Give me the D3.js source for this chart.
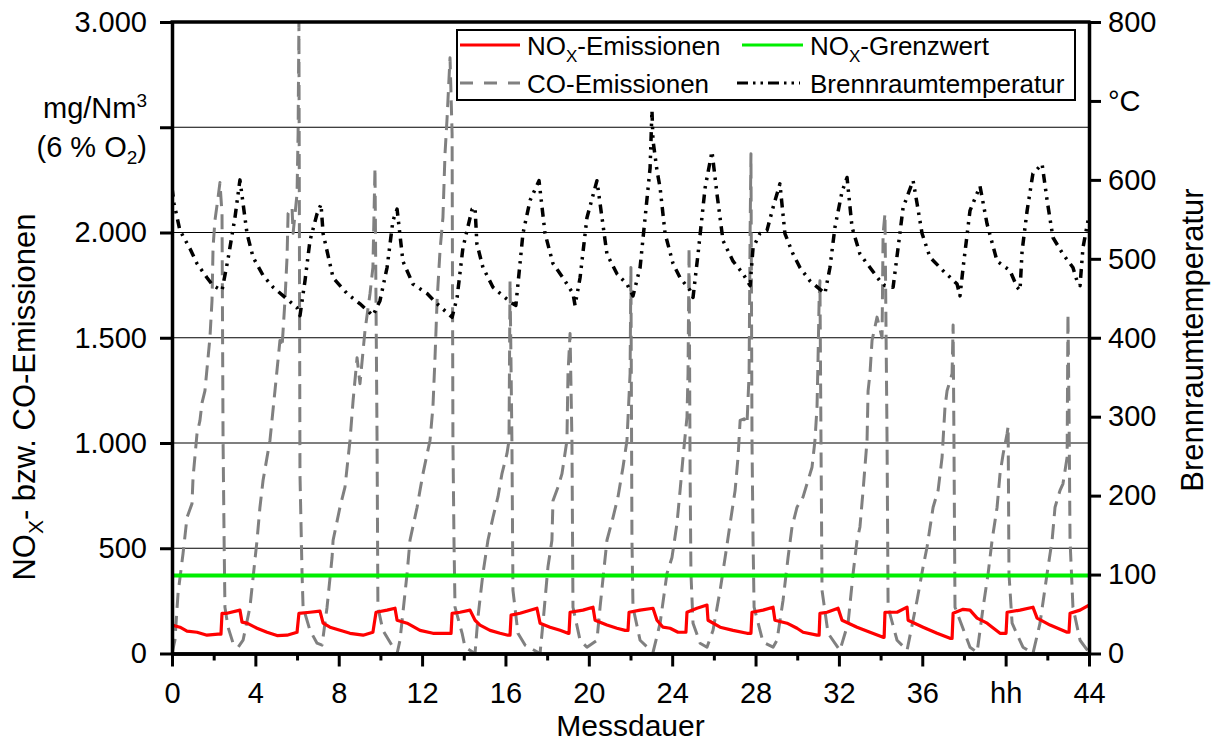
<!DOCTYPE html>
<html><head><meta charset="utf-8">
<script src="https://cdn.jsdelivr.net/npm/d3@7"></script>
<style>
html,body{margin:0;padding:0;background:#fff;}
svg{display:block;font-family:"Liberation Sans",Arial,sans-serif;}
</style></head>
<body>
<svg id="chart" width="1218" height="745"></svg>
<script>
// ---------- data ----------
const xTickValues = [0,4,8,12,16,20,24,28,32,36,40,44];
const xTickLabels = ["0","4","8","12","16","20","24","28","32","36","hh","44"];
const xMinorTicks = [2,6,10,14,18,22,26,30,34,38,42];
const leftTickValues = [0,500,1000,1500,2000,2500,3000];
const rightTickValues = [0,100,200,300,400,500,600,700,800];
const noxLimit = 370;

// NOx emissions [hour, mg/Nm3]
const noxData = [[0,135],[0.38,125],[0.72,106],[1.2,101],[1.68,87],[2.21,92],[2.35,92],[2.4,191],[2.64,191],[3.26,206],[3.36,149],[3.6,144],[4.08,120],[4.56,101],[5.04,85],[5.52,87],[6.0,101],[6.09,191],[6.62,196],[7.1,201],[7.25,144],[7.58,125],[8.06,110],[8.54,96],[9.17,87],[9.64,101],[9.79,196],[10.32,206],[10.7,215],[10.8,158],[11.28,144],[11.9,110],[12.52,96],[13.2,96],[13.39,96],[13.44,191],[13.82,196],[14.3,206],[14.54,158],[14.78,135],[15.26,110],[15.74,96],[16.12,87],[16.22,87],[16.27,182],[16.7,191],[17.51,215],[17.66,144],[18.14,125],[18.62,110],[19.0,96],[19.05,96],[19.1,196],[19.72,206],[20.2,220],[20.3,158],[20.87,135],[21.35,120],[21.74,110],[21.88,110],[21.93,196],[22.46,206],[23.08,215],[23.27,158],[23.56,125],[23.9,120],[24.28,101],[24.66,101],[24.71,196],[25.19,215],[25.67,230],[25.72,158],[26.3,125],[26.92,110],[27.59,96],[27.78,96],[27.83,196],[28.36,206],[28.84,220],[28.93,158],[29.51,144],[29.99,120],[30.28,101],[30.95,87],[31.05,87],[31.09,191],[31.43,196],[31.96,215],[32.15,158],[32.87,125],[33.49,101],[34.12,77],[34.17,77],[34.21,196],[34.79,196],[35.27,220],[35.32,158],[36.04,125],[36.71,96],[37.33,72],[37.43,72],[37.48,191],[37.96,210],[38.29,206],[38.63,168],[39.11,144],[39.73,96],[40.02,96],[40.07,196],[40.69,206],[41.31,220],[41.51,168],[42.13,135],[42.61,115],[42.95,101],[43.04,101],[43.09,191],[43.57,206],[44,230]];

// CO emissions [hour, mg/Nm3]
const coData = [[0,0],[0.14,63],[0.29,286],[0.53,475],[0.72,646],[0.96,712],[1.01,836],[1.2,1044],[1.34,1106],[1.44,1191],[1.58,1248],[1.73,1405],[1.82,1501],[1.92,1677],[1.97,1929],[2.06,2057],[2.21,2166],[2.3,2237],[2.4,2090],[2.45,1012],[2.5,538],[2.54,220],[2.69,125],[2.93,49],[3.17,30],[3.41,63],[3.74,220],[4.08,538],[4.22,695],[4.37,823],[4.7,1012],[4.94,1248],[5.18,1487],[5.28,1455],[5.42,1677],[5.52,1882],[5.57,2090],[5.76,2119],[5.81,1996],[6.0,2185],[6.05,2469],[6.09,3000],[6.14,853],[6.24,380],[6.29,220],[6.62,110],[6.96,49],[7.2,40],[7.44,220],[7.68,456],[7.73,538],[8.06,695],[8.3,790],[8.54,1012],[8.69,1202],[8.88,1405],[9.02,1282],[9.26,1534],[9.5,1709],[9.64,1834],[9.74,2308],[9.84,1000],[9.88,220],[10.12,110],[10.6,30],[10.8,0],[10.94,63],[11.28,380],[11.42,538],[11.76,695],[11.9,775],[12.04,853],[12.24,948],[12.38,1012],[12.52,1170],[12.62,1405],[12.72,1677],[12.86,1914],[13.0,2071],[13.1,2374],[13.2,2545],[13.34,2830],[13.44,2469],[13.48,1012],[13.53,538],[13.58,220],[13.92,96],[14.06,30],[14.54,0],[14.68,172],[14.92,380],[15.16,538],[15.4,646],[15.64,744],[15.83,853],[16.07,948],[16.17,1012],[16.22,1770],[16.31,1012],[16.36,300],[16.6,96],[16.94,40],[17.66,0],[17.8,144],[18.04,412],[18.23,538],[18.28,726],[18.52,790],[18.71,853],[18.95,1012],[19.0,1329],[19.1,1520],[19.19,1012],[19.24,220],[19.58,63],[19.91,30],[20.39,63],[20.54,220],[20.87,538],[21.16,646],[21.4,744],[21.64,885],[21.83,1012],[21.98,1329],[22.02,1834],[22.07,538],[22.12,220],[22.46,63],[23.08,5],[23.42,144],[23.75,380],[23.99,456],[24.23,617],[24.38,775],[24.52,932],[24.71,1123],[24.76,1329],[24.81,1929],[24.86,853],[24.9,380],[25.0,144],[25.34,49],[25.67,30],[25.96,110],[26.3,300],[26.54,456],[26.78,617],[27.02,775],[27.16,932],[27.26,1107],[27.45,1115],[27.59,1090],[27.69,1329],[27.74,2009],[27.78,2374],[27.83,1012],[27.88,538],[27.93,220],[28.36,54],[28.84,30],[29.03,63],[29.32,253],[29.56,456],[29.75,601],[29.99,695],[30.28,744],[30.52,823],[30.71,885],[30.85,1012],[30.95,1170],[31.0,1405],[31.05,1677],[31.09,1771],[31.14,1012],[31.19,300],[31.48,96],[32.05,15],[32.44,144],[32.68,380],[32.87,538],[33.01,601],[33.16,775],[33.35,1012],[33.4,1248],[33.49,1329],[33.59,1487],[33.83,1598],[34.07,1500],[34.12,1993],[34.21,2090],[34.31,1012],[34.36,220],[34.79,63],[35.27,15],[35.75,253],[36.04,412],[36.23,506],[36.52,695],[36.76,775],[36.95,932],[37.09,1170],[37.19,1248],[37.43,1329],[37.48,1560],[37.52,1012],[37.57,220],[38.29,30],[38.63,5],[38.92,220],[39.16,380],[39.35,538],[39.59,695],[39.73,853],[39.88,948],[40.07,1044],[40.12,1080],[40.16,380],[40.31,144],[40.83,30],[41.31,0],[41.65,144],[41.99,380],[42.23,538],[42.37,695],[42.61,775],[42.75,806],[42.95,932],[42.99,1614],[43.04,1170],[43.09,538],[43.23,220],[43.57,63],[44,5]];

// Combustion chamber temperature [hour, °C]
const tempData = [[0,590],[0.1,570],[0.38,536],[0.86,513],[1.2,494],[1.68,476],[1.97,466],[2.4,460],[2.69,500],[3.02,552],[3.26,600],[3.6,532],[3.89,502],[4.37,479],[4.85,464],[5.52,449],[6.0,438],[6.14,428],[6.38,472],[6.62,523],[6.96,557],[7.15,569],[7.25,532],[7.73,476],[8.4,456],[9.02,443],[9.64,428],[9.98,447],[10.32,489],[10.6,548],[10.8,563],[11.08,497],[11.56,468],[12.24,456],[12.72,443],[13.44,426],[13.68,451],[13.96,514],[14.4,563],[14.54,565],[14.63,519],[14.92,489],[15.4,464],[15.88,453],[16.36,443],[16.5,441],[16.6,468],[16.84,532],[17.18,574],[17.61,599],[17.9,532],[18.28,494],[18.76,476],[19.24,456],[19.34,441],[19.58,476],[19.91,552],[20.39,599],[20.54,570],[20.87,506],[21.35,481],[21.83,468],[22.12,453],[22.46,489],[22.7,552],[22.94,615],[23.03,688],[23.08,650],[23.27,612],[23.42,590],[23.66,532],[24.04,494],[24.38,476],[24.86,460],[25.0,451],[25.24,506],[25.58,590],[25.91,636],[26.15,582],[26.44,523],[26.92,497],[27.4,481],[27.74,466],[27.88,514],[28.21,532],[28.55,536],[28.84,565],[29.17,595],[29.41,532],[29.8,506],[30.13,489],[30.61,472],[31.33,456],[31.57,489],[31.81,540],[32.15,585],[32.39,603],[32.63,540],[33.01,506],[33.49,489],[33.97,472],[34.21,466],[34.6,464],[34.84,514],[35.08,565],[35.56,599],[35.75,570],[35.99,532],[36.37,502],[37.0,485],[37.67,468],[37.81,453],[37.96,489],[38.29,561],[38.77,592],[39.11,544],[39.59,497],[40.21,485],[40.55,464],[40.69,460],[40.79,510],[41.03,561],[41.31,608],[41.75,620],[41.99,574],[42.27,527],[42.75,506],[43.23,489],[43.47,468],[43.57,466],[43.71,514],[44,555]];

// ---------- layout ----------
const svg = d3.select("#chart");
const L = 172, R = 1089, T = 22, B = 653.5;
const FONT = 29;

const x = d3.scaleLinear().domain([0,44]).range([L,R]);
const yL = d3.scaleLinear().domain([0,3000]).range([B,T]);
const yR = d3.scaleLinear().domain([0,800]).range([B,T]);

const de = d3.formatLocale({decimal:",",thousands:".",grouping:[3],currency:["","€"]});
const fmt = de.format(",");

// gridlines
svg.append("g").selectAll("line").data([500,1000,1500,2000,2500]).join("line")
  .attr("x1",L).attr("x2",R).attr("y1",d=>yL(d)).attr("y2",d=>yL(d))
  .attr("stroke","#000").attr("stroke-width",1.2);

// clip
svg.append("clipPath").attr("id","clip").append("rect")
  .attr("x",L).attr("y",T).attr("width",R-L).attr("height",B-T);

const plot = svg.append("g").attr("clip-path","url(#clip)");

const lineL = d3.line().x(d=>x(d[0])).y(d=>yL(d[1]));
const lineR = d3.line().x(d=>x(d[0])).y(d=>yR(d[1]));

plot.append("path").datum(coData).attr("d",lineL)
  .attr("fill","none").attr("stroke","#808080").attr("stroke-width",3)
  .attr("stroke-dasharray","15,8").attr("stroke-linejoin","round");

plot.append("path").datum(tempData).attr("d",lineR)
  .attr("fill","none").attr("stroke","#000").attr("stroke-width",3.5)
  .attr("stroke-dasharray","9,6,2.5,6,2.5,6").attr("stroke-linejoin","round");

plot.append("line").attr("x1",L).attr("x2",R)
  .attr("y1",yL(noxLimit)).attr("y2",yL(noxLimit))
  .attr("stroke","#00ee00").attr("stroke-width",4);

plot.append("path").datum(noxData).attr("d",lineL)
  .attr("fill","none").attr("stroke","#ff0000").attr("stroke-width",3.2)
  .attr("stroke-linejoin","round");

// axes
function styleAxis(g){
  g.select(".domain").attr("stroke","#000").attr("stroke-width",3.5);
  g.selectAll(".tick line").attr("stroke","#000").attr("stroke-width",3);
  g.selectAll(".tick text").attr("fill","#000").attr("font-size",FONT)
    .attr("font-family","'Liberation Sans',Arial,sans-serif");
}

// top frame
svg.append("line").attr("x1",L-1.5).attr("x2",R+1.5).attr("y1",T).attr("y2",T)
  .attr("stroke","#000").attr("stroke-width",3.5);

const gLeft = svg.append("g").attr("transform",`translate(${L},0)`)
  .call(d3.axisLeft(yL).tickValues(leftTickValues).tickSize(12).tickSizeOuter(0).tickPadding(13)
    .tickFormat(d=> d===2500 ? "" : fmt(d)));
styleAxis(gLeft);

const gRight = svg.append("g").attr("transform",`translate(${R},0)`)
  .call(d3.axisRight(yR).tickValues(rightTickValues).tickSize(12).tickSizeOuter(0).tickPadding(7)
    .tickFormat(d=> d===700 ? "°C" : String(d)));
styleAxis(gRight);

const gMinor = svg.append("g").attr("transform",`translate(0,${B})`)
  .call(d3.axisBottom(x).tickValues(xMinorTicks).tickSize(7).tickSizeOuter(0).tickFormat(""));
styleAxis(gMinor);

const gBottom = svg.append("g").attr("transform",`translate(0,${B})`)
  .call(d3.axisBottom(x).tickValues(xTickValues).tickSize(13).tickSizeOuter(0).tickPadding(16)
    .tickFormat((d,i)=>xTickLabels[i]));
styleAxis(gBottom);

// unit label on left axis
const unit = svg.append("g").attr("font-size",FONT).attr("fill","#000");
const u1 = unit.append("text").attr("x",147).attr("y",118).attr("text-anchor","end");
u1.append("tspan").text("mg/Nm");
u1.append("tspan").attr("font-size",19).attr("dy",-11).text("3");
const u2 = unit.append("text").attr("x",147).attr("y",157).attr("text-anchor","end");
u2.append("tspan").text("(6 % O");
u2.append("tspan").attr("font-size",19).attr("dy",7).text("2");
u2.append("tspan").attr("dy",-7).text(")");

// axis titles
const tL = svg.append("text").attr("transform","translate(35,397) rotate(-90)")
  .attr("text-anchor","middle").attr("font-size",31);
tL.append("tspan").text("NO");
tL.append("tspan").attr("font-size",21).attr("dy",8).text("X");
tL.append("tspan").attr("dy",-8).text("- bzw. CO-Emissionen");

svg.append("text").attr("transform","translate(1203,340) rotate(-90)")
  .attr("text-anchor","middle").attr("font-size",31).text("Brennraumtemperatur");

svg.append("text").attr("x",(L+R)/2).attr("y",736).attr("text-anchor","middle")
  .attr("font-size",30).text("Messdauer");

// legend
const lg = svg.append("g");
lg.append("rect").attr("x",457).attr("y",30).attr("width",618).attr("height",70)
  .attr("fill","#fff").attr("stroke","#000").attr("stroke-width",2);
const legendItems = [
  {x1:460,x2:520,y:45,tx:527,ty:55,color:"#ff0000",dash:null,w:3,label:["NO","X","-Emissionen"]},
  {x1:742,x2:803,y:45,tx:810,ty:55,color:"#00ee00",dash:null,w:3,label:["NO","X","-Grenzwert"]},
  {x1:460,x2:520,y:83,tx:527,ty:93,color:"#808080",dash:"13,11",w:3,label:["CO-Emissionen"]},
  {x1:737,x2:800,y:83,tx:810,ty:93,color:"#000",dash:"11,5,2.5,5,2.5,5",w:3,label:["Brennraumtemperatur"]}
];
legendItems.forEach(it=>{
  const ln = lg.append("line").attr("x1",it.x1).attr("x2",it.x2).attr("y1",it.y).attr("y2",it.y)
    .attr("stroke",it.color).attr("stroke-width",it.w);
  if(it.dash) ln.attr("stroke-dasharray",it.dash);
  const t = lg.append("text").attr("x",it.tx).attr("y",it.ty).attr("font-size",26);
  if(it.label.length===3){
    t.append("tspan").text(it.label[0]);
    t.append("tspan").attr("font-size",17).attr("dy",7).text(it.label[1]);
    t.append("tspan").attr("dy",-7).text(it.label[2]);
  } else t.text(it.label[0]);
});
</script>
</body></html>
